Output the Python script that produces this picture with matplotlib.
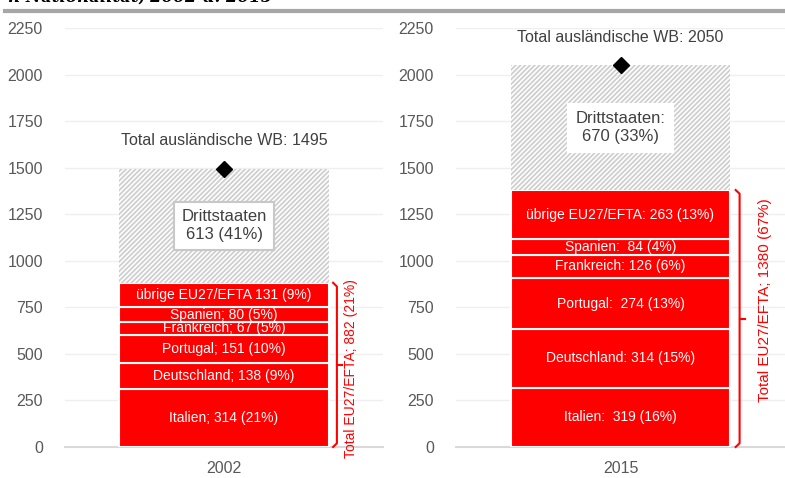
import matplotlib.pyplot as plt
from matplotlib.lines import Line2D
from matplotlib import font_manager

names = set(f.name for f in font_manager.fontManager.ttflist)
fam = 'Liberation Sans Narrow' if 'Liberation Sans Narrow' in names else 'Liberation Sans'
plt.rcParams['font.family'] = [fam, 'DejaVu Sans']
plt.rcParams['hatch.linewidth'] = 1.3

years = ['2002', '2015']
laender = ['Italien', 'Deutschland', 'Portugal', 'Frankreich', 'Spanien', 'übrige EU27/EFTA']
werte_2002 = [314, 138, 151, 67, 80, 131]
werte_2015 = [319, 314, 274, 126, 84, 263]
labels_2002 = ['Italien; 314 (21%)', 'Deutschland; 138 (9%)', 'Portugal; 151 (10%)',
               'Frankreich; 67 (5%)', 'Spanien; 80 (5%)', 'übrige EU27/EFTA 131 (9%)']
labels_2015 = ['Italien:  319 (16%)', 'Deutschland: 314 (15%)', 'Portugal:  274 (13%)',
               'Frankreich: 126 (6%)', 'Spanien:  84 (4%)', 'übrige EU27/EFTA: 263 (13%)']
eu_total = [882, 1380]
eu_text = ['Total EU27/EFTA; 882 (21%)', 'Total EU27/EFTA; 1380 (67%)']
dritt = [613, 670]
dritt_text = ['Drittstaaten\n613 (41%)', 'Drittstaaten:\n670 (33%)']
total = [1495, 2050]
yticks = [0, 250, 500, 750, 1000, 1250, 1500, 1750, 2000, 2250]

W, H = 785, 478
fig = plt.figure(figsize=(W / 100, H / 100), dpi=100)

# axes boxes in pixels: left, right
boxes = [(65, 383), (456, 785)]
ytop, ybot = 28, 447
bar_w = [0.66, 0.663]
brace_x = [0.355, 0.362]
text_x = [0.40, 0.44]
text_dy = [-20, 100]
text_fs = [10, 11]

for i in range(2):
    x0, x1 = boxes[i]
    ax = fig.add_axes([x0 / W, (H - ybot) / H, (x1 - x0) / W, (ybot - ytop) / H])
    ax.set_xlim(-0.5, 0.5)
    ax.set_ylim(0, 2250)
    for s in ax.spines.values():
        s.set_visible(False)
    ax.set_yticks(yticks)
    ax.tick_params(axis='y', length=0, pad=16, labelsize=11.5, labelcolor='#595959')
    ax.set_xticks([0])
    ax.set_xticklabels([years[i]])
    ax.tick_params(axis='x', length=0, pad=10, labelsize=11.5, labelcolor='#595959')
    for t in yticks[1:]:
        ax.axhline(t, color='#EFEFEF', lw=1, zorder=0)
    ax.axhline(0, color='#D9D9D9', lw=1.5, zorder=1, clip_on=False)

    vals = werte_2002 if i == 0 else werte_2015
    labs = labels_2002 if i == 0 else labels_2015
    bottom = 0
    for v, lab in zip(vals, labs):
        ax.bar(0, v, bottom=bottom, width=bar_w[i], color='#FF0000',
               edgecolor='white', linewidth=1.5, zorder=2)
        ax.text(0, bottom + v / 2, lab, color='white', ha='center', va='center',
                fontsize=10, zorder=4)
        bottom += v
    ax.bar(0, dritt[i], bottom=bottom, width=bar_w[i], color='white',
           edgecolor='#CFCFCF', hatch='///////', linewidth=0, zorder=2)
    box = dict(boxstyle='square,pad=0.45', fc='white',
               ec='#C8C8C8' if i == 0 else 'white', lw=1.5)
    ax.text(0, bottom + dritt[i] / 2, dritt_text[i], color='#404040', ha='center',
            va='center', fontsize=12, bbox=box, zorder=4, linespacing=1.25)

    ax.plot(0, total[i], marker='D', color='black', markersize=8, zorder=5)
    ax.text(0, total[i] + 150, 'Total ausländische WB: ' + str(total[i]),
            color='#404040', ha='center', va='center', fontsize=11.5, zorder=5)

    # brace around EU27/EFTA stack
    bx = brace_x[i]
    e = eu_total[i]
    ax.plot([bx - 0.012, bx, bx, bx - 0.012], [e, e - 20, 20, 0],
            color='#FF0000', lw=1.5, clip_on=False, zorder=3)
    ax.plot([bx, bx + 0.015], [e / 2, e / 2], color='#FF0000', lw=1.5,
            clip_on=False, zorder=3)
    ax.text(text_x[i], e / 2 + text_dy[i], eu_text[i], rotation=90, color='#FF0000',
            ha='center', va='center', fontsize=text_fs[i], clip_on=False)

fig.add_artist(Line2D([5 / W, 1], [(H - 11) / H, (H - 11) / H], color='#A6A6A6', lw=3))
fig.text(8 / W, 1.0 + 3 / H, 'n Nationalität, 2002 u. 2015', family='DejaVu Serif',
         fontweight='bold', fontstyle='italic', fontsize=12, va='center', ha='left')

fig.savefig('out.png', dpi=100)
